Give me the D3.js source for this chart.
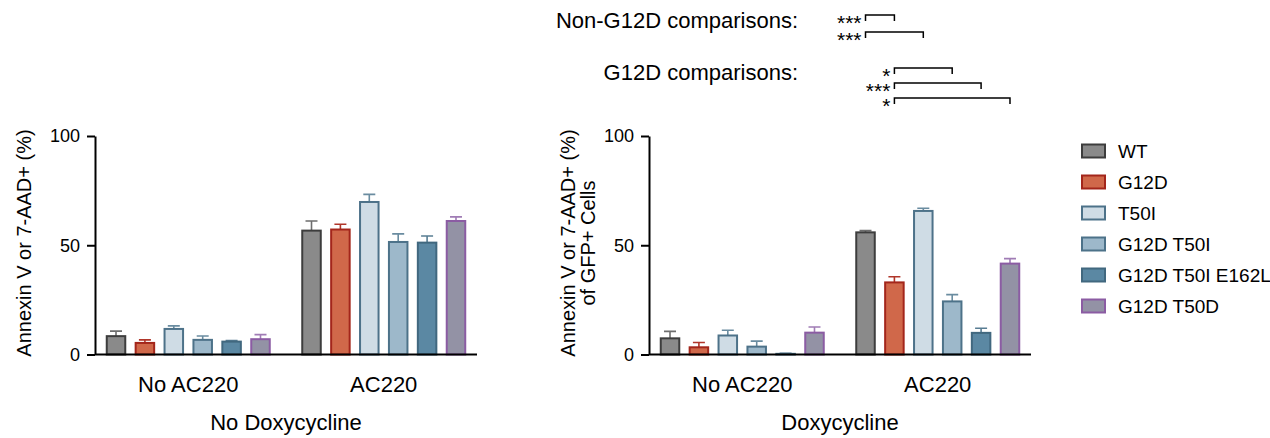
<!DOCTYPE html>
<html>
<head>
<meta charset="utf-8">
<script src="https://cdn.jsdelivr.net/npm/d3@7"></script>
<style>
  body { margin: 0; background: #fff; }
  svg { font-family: "Liberation Sans", Arial, sans-serif; }
</style>
</head>
<body>
<div id="chart"></div>
<script>
// data
const genotypes = ["WT", "G12D", "T50I", "G12D T50I", "G12D T50I E162L", "G12D T50D"];
const conditions = ["No AC220", "AC220"];

const noDoxMean = [[8.4, 5.3, 11.7, 6.7, 5.9, 7.0], [56.7, 57.2, 69.8, 51.5, 51.2, 61.1]];
const noDoxErr  = [[2.3, 1.4, 1.4, 1.8, 0.5, 2.1], [4.4, 2.4, 3.5, 3.7, 3.0, 1.9]];
const doxMean   = [[7.4, 3.3, 8.7, 3.6, 0.3, 10.0], [55.9, 33.0, 65.7, 24.3, 9.9, 41.6]];
const doxErr    = [[3.2, 2.2, 2.4, 2.5, 0.3, 2.6], [0.8, 2.6, 1.2, 3.1, 2.1, 2.3]];

const yTicks = [0, 50, 100];

// significance brackets (indices into genotypes, AC220 group of the Doxycycline panel)
const nonG12DComparisons = [[0, 1, "***"], [0, 2, "***"]];
const g12dComparisons = [[1, 3, "*"], [1, 4, "***"], [1, 5, "*"]];

const fills   = ["#8a8a8a", "#d0684a", "#cfdce5", "#9db8ca", "#5b88a3", "#9392a5"];
const strokes = ["#3d3d3d", "#a3261b", "#4d7289", "#4d7289", "#41687f", "#8b5ca3"];
const errCols = ["#6e6e6e", "#b0362a", "#6a8ca0", "#6a8ca0", "#587d93", "#a07cb5"];

const W = 1270, H = 438;
const svg = d3.select("#chart").append("svg")
  .attr("width", W).attr("height", H);

const y = d3.scaleLinear().domain([0, 100]).range([354.5, 136]);

function drawPanel(x0, mean, err, ylabels, ylabelX, title) {
  const width = 382;
  const g = svg.append("g").attr("transform", `translate(${x0},0)`);

  const xOuter = d3.scaleBand().domain(conditions).range([0, width])
    .paddingInner(0.156).paddingOuter(0.055);
  const xInner = d3.scaleBand().domain(genotypes).range([0, xOuter.bandwidth()])
    .paddingInner(0.29).paddingOuter(0);

  conditions.forEach((c, ci) => {
    const cg = g.append("g").attr("transform", `translate(${xOuter(c)},0)`);
    const rows = genotypes.map((gt, i) => ({ gt, i, v: mean[ci][i], e: err[ci][i] }));

    // error bars (upper only)
    cg.selectAll(".err").data(rows).enter().append("path")
      .attr("d", d => {
        const cx = xInner(d.gt) + xInner.bandwidth() / 2;
        return `M${cx},${y(d.v)}V${y(d.v + d.e)}M${cx - 6},${y(d.v + d.e)}H${cx + 6}`;
      })
      .attr("fill", "none")
      .attr("stroke", d => errCols[d.i])
      .attr("stroke-width", 1.6);

    cg.selectAll(".bar").data(rows).enter().append("rect")
      .attr("x", d => xInner(d.gt) + 1)
      .attr("width", xInner.bandwidth() - 2)
      .attr("y", d => y(d.v))
      .attr("height", d => Math.max(0, y(0) - y(d.v)))
      .attr("fill", d => fills[d.i])
      .attr("stroke", d => strokes[d.i])
      .attr("stroke-width", 2);

    cg.append("text")
      .attr("x", xOuter.bandwidth() / 2)
      .attr("y", 392)
      .attr("text-anchor", "middle")
      .style("font-size", "22px")
      .text(c);
  });

  // axes
  const yAxis = g.append("g")
    .call(d3.axisLeft(y).tickValues(yTicks).tickSize(8).tickPadding(7).tickSizeOuter(0));
  yAxis.select(".domain").attr("stroke-width", 2);
  yAxis.selectAll(".tick line").attr("stroke-width", 2);
  yAxis.selectAll("text").style("font-size", "18px").attr("fill", "#000");

  g.append("line")
    .attr("x1", 0).attr("x2", width)
    .attr("y1", y(0)).attr("y2", y(0))
    .attr("stroke", "#000").attr("stroke-width", 2);

  g.append("text")
    .attr("x", width / 2)
    .attr("y", 430)
    .attr("text-anchor", "middle")
    .style("font-size", "22px")
    .text(title);

  ylabels.forEach((t, i) => {
    g.append("text")
      .attr("transform", `translate(${ylabelX[i] - x0},243) rotate(-90)`)
      .attr("text-anchor", "middle")
      .style("font-size", "20px")
      .text(t);
  });

  return { xOuter, xInner };
}

drawPanel(95, noDoxMean, noDoxErr, ["Annexin V or 7-AAD+ (%)"], [31], "No Doxycycline");
const right = drawPanel(649, doxMean, doxErr,
  ["Annexin V or 7-AAD+ (%)", "of GFP+ Cells"], [575, 595], "Doxycycline");

// significance brackets
const bx = i => 649 + right.xOuter("AC220") + right.xInner(genotypes[i]) + right.xInner.bandwidth() / 2;

function drawBrackets(list, ys, label, labelY) {
  svg.append("text")
    .attr("x", 798).attr("y", labelY)
    .attr("text-anchor", "end")
    .style("font-size", "22px")
    .text(label);
  list.forEach((c, k) => {
    const yy = ys[k];
    svg.append("path")
      .attr("d", `M${bx(c[0])},${yy + 6}V${yy}H${bx(c[1])}V${yy + 6}`)
      .attr("fill", "none")
      .attr("stroke", "#000")
      .attr("stroke-width", 1.5);
    svg.append("text")
      .attr("x", bx(c[0]) - 4)
      .attr("y", yy + 15)
      .attr("text-anchor", "end")
      .style("font-size", "21px")
      .text(c[2]);
  });
}
drawBrackets(nonG12DComparisons, [15, 32], "Non-G12D comparisons:", 28);
drawBrackets(g12dComparisons, [68, 83, 98], "G12D comparisons:", 80);

// legend
const legend = svg.append("g").attr("transform", "translate(1081,151)");
const ly = d3.scalePoint().domain(genotypes).range([0, 155]);
genotypes.forEach((gt, i) => {
  legend.append("rect")
    .attr("x", 1).attr("y", ly(gt) - 6.5)
    .attr("width", 23).attr("height", 13)
    .attr("fill", fills[i])
    .attr("stroke", strokes[i])
    .attr("stroke-width", 2);
  legend.append("text")
    .attr("x", 37).attr("y", ly(gt) + 7)
    .style("font-size", "19px")
    .text(gt);
});
</script>
</body>
</html>
